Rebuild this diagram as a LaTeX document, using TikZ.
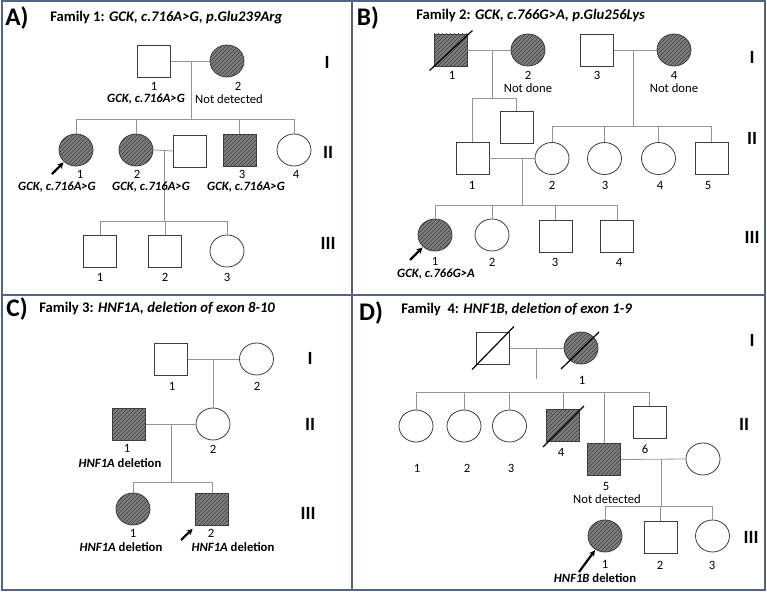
\documentclass[tikz,border=0pt]{standalone}
\usepackage{fontspec}
\setmainfont{Carlito}
\usetikzlibrary{shapes.geometric,patterns,calc,arrows.meta}
\definecolor{framec}{RGB}{84,98,132}
\definecolor{symc}{RGB}{60,60,60}
\definecolor{connc}{RGB}{150,150,150}
\definecolor{affc}{RGB}{125,125,125}
\definecolor{hatc}{RGB}{65,65,65}
\tikzset{
  sym/.style={draw=symc, line width=0.6pt, inner sep=0pt},
  male/.style={sym, rectangle, minimum width=24.75pt, minimum height=24pt},
  female/.style={sym, ellipse, minimum width=25.5pt, minimum height=24pt},
  aff/.style={preaction={fill=affc}, pattern=north east lines, pattern color=hatc},
  conn/.style={draw=connc, line width=0.6pt},
  num/.style={font=\fontsize{9.5}{11}\selectfont, inner sep=0pt},
  geno/.style={font=\fontsize{9.5}{11}\selectfont\bfseries\itshape, inner sep=0pt},
  gen/.style={font=\fontsize{14}{16}\selectfont\bfseries, inner sep=0pt},
  panel/.style={font=\fontsize{19}{22}\selectfont\bfseries, inner sep=0pt},
  ttl/.style={font=\fontsize{11}{13}\selectfont\bfseries, anchor=west, inner sep=0pt},
  prob/.style={line width=1.6pt, black, -{Stealth[length=4.5pt,width=4.5pt]}, shorten >=0.5pt},
  dec/.style={line width=0.9pt, black},
  framel/.style={draw=framec, line width=0.8pt}
}
\begin{document}
\begin{tikzpicture}[x=0.75pt,y=-0.75pt]
\useasboundingbox (0,0) rectangle (767,592);
% frame
\draw[framel] (2,1) rectangle (765,590);
\draw[framel] (352,1) -- (352,590);
\draw[framel] (2,295) -- (765,295);

% ================= Panel A =================
\node[panel] (Apl) at (17,18) {A)};
\node[ttl] (Atl) at (50,18) {Family 1: \textit{GCK, c.716A>G, p.Glu239Arg}};
\node[male] (A11) at (154,61) {};
\node[female,aff] (A12) at (227,61) {};
\draw[conn] (A11.east) -- (A12.west);
\coordinate (Am1) at (191,61);
\coordinate (As1) at (191,119);
\draw[conn] (Am1) -- (As1);
\node[num] (A11n) at (154,86) {1};
\node[geno] (A11g) at (146,99) {GCK, c.716A>G};
\node[num] (A12n) at (238,86) {2};
\node[num] (A12g) at (229,99) {Not detected};
\node[gen] (AgI) at (327,62) {I};

\node[female,aff] (A21) at (76,150) {};
\node[female,aff] (A22) at (136,150) {};
\node[male] (A2s) at (190,151) {};
\node[male,aff] (A23) at (239.5,150.5) {};
\node[female] (A24) at (294,150) {};
\foreach \c in {A21,A22,A23,A24} \draw[conn] (\c.north) |- (As1);
\draw[conn] (A22.east) -- (A2s.west);
\coordinate (Am2) at (164,151);
\coordinate (As2) at (164,221);
\draw[conn] (Am2) -- (As2);
\node[num] (A21n) at (80,174) {1};
\node[num] (A22n) at (137,174) {2};
\node[num] (A23n) at (242,174) {3};
\node[num] (A24n) at (296,174) {4};
\node[geno] (A21g) at (57,187) {GCK, c.716A>G};
\node[geno] (A22g) at (151,187) {GCK, c.716A>G};
\node[geno] (A23g) at (246,187) {GCK, c.716A>G};
\coordinate (A21a) at (52,174);
\draw[prob] (A21a) -- (A21.225);
\node[gen] (AgII) at (328,152) {II};

\node[male] (A31) at (100,251) {};
\node[male] (A32) at (165,251) {};
\node[female] (A33) at (227,251) {};
\foreach \c in {A31,A32,A33} \draw[conn] (\c.north) |- (As2);
\node[num] (A31n) at (100,277) {1};
\node[num] (A32n) at (165,277) {2};
\node[num] (A33n) at (227,277) {3};
\node[gen] (AgIII) at (328,243) {III};

% ================= Panel B =================
\node[panel] (Bpl) at (368,18) {B)};
\node[ttl] (Btl) at (416,16) {Family 2: \textit{GCK, c.766G>A, p.Glu256Lys}};
\node[male,aff] (B11) at (450.5,50) {};
\draw[dec] ($(B11.south west)+(-4,4)$) -- ($(B11.north east)+(5,-3)$);
\node[female,aff] (B12) at (528,50) {};
\draw[conn] (B11.east) -- (B12.west);
\coordinate (Bm1) at (492,50);
\coordinate (Bs1) at (492,98);
\draw[conn] (Bm1) -- (Bs1);
\node[male] (B13) at (597,50) {};
\node[female,aff] (B14) at (674,50) {};
\draw[conn] (B13.east) -- (B14.west);
\coordinate (Bm2) at (633,50);
\coordinate (Bs2) at (633,126);
\draw[conn] (Bm2) -- (Bs2);
\node[num] (B11n) at (452,75) {1};
\node[num] (B12n) at (528,75) {2};
\node[num] (B12g) at (528,88) {Not done};
\node[num] (B13n) at (597,75) {3};
\node[num] (B14n) at (674,75) {4};
\node[num] (B14g) at (674,88) {Not done};
\node[gen] (BgI) at (752,57) {I};

\node[male] (B21) at (472.5,158.5) {};
\node[male] (B2x) at (516.5,127.5) {};
\draw[conn] (B21.north) |- (Bs1);
\draw[conn] (B2x.north) |- (Bs1);
\node[female] (B22) at (552,158.5) {};
\node[female] (B23) at (604.5,158.5) {};
\node[female] (B24) at (658.5,158.5) {};
\node[male] (B25) at (711.5,158.5) {};
\foreach \c in {B22,B23,B24,B25} \draw[conn] (\c.north) |- (Bs2);
\draw[conn] (B21.east) -- (B22.west);
\coordinate (Bm3) at (522,158.5);
\coordinate (Bs3) at (522,205);
\draw[conn] (Bm3) -- (Bs3);
\node[num] (B21n) at (472,185) {1};
\node[num] (B22n) at (552,185) {2};
\node[num] (B23n) at (605,185) {3};
\node[num] (B24n) at (660,185) {4};
\node[num] (B25n) at (708,185) {5};
\node[gen] (BgII) at (752,138) {II};

\node[female,aff] (B31) at (435,235) {};
\node[female] (B32) at (492,235) {};
\node[male] (B33) at (555.5,236) {};
\node[male] (B34) at (617,236) {};
\foreach \c in {B31,B32,B33,B34} \draw[conn] (\c.north) |- (Bs3);
\node[num] (B31n) at (435,261) {1};
\node[num] (B32n) at (492,262) {2};
\node[num] (B33n) at (555,262) {3};
\node[num] (B34n) at (619,262) {4};
\node[geno] (B31g) at (436,274) {GCK, c.766G>A};
\coordinate (B31a) at (410,260);
\draw[prob] (B31a) -- (B31.225);
\node[gen] (BgIII) at (752,237) {III};

% ================= Panel C =================
\node[panel] (Cpl) at (17,309) {C)};
\node[ttl] (Ctl) at (39,309) {Family 3: \textit{HNF1A, deletion of exon 8-10}};
\node[male] (C11) at (171,359) {};
\node[female] (C12) at (256.5,359) {};
\draw[conn] (C11.east) -- (C12.west);
\coordinate (Cm1) at (213,359);
\node[num] (C11n) at (172,386) {1};
\node[num] (C12n) at (257,386) {2};
\node[gen] (CgI) at (310,358) {I};

\node[male,aff] (C21) at (129,424) {};
\node[female] (C22) at (213,424) {};
\draw[conn] (Cm1) -- (C22.north);
\draw[conn] (C21.east) -- (C22.west);
\coordinate (Cm2) at (171,424);
\coordinate (Cs2) at (171,482);
\draw[conn] (Cm2) -- (Cs2);
\node[num] (C21n) at (127,448) {1};
\node[num] (C22n) at (213,449) {2};
\node[num,font=\fontsize{9.5}{11}\selectfont\bfseries] (C21g) at (120,463) {\textit{HNF1A} deletion};
\node[gen] (CgII) at (310,424) {II};

\node[female,aff] (C31) at (133,509) {};
\node[male,aff] (C32) at (212,509) {};
\foreach \c in {C31,C32} \draw[conn] (\c.north) |- (Cs2);
\node[num] (C31n) at (133,533) {1};
\node[num] (C32n) at (211,533) {2};
\node[num,font=\fontsize{9.5}{11}\selectfont\bfseries] (C31g) at (121,547) {\textit{HNF1A} deletion};
\node[num,font=\fontsize{9.5}{11}\selectfont\bfseries] (C32g) at (233,547) {\textit{HNF1A} deletion};
\coordinate (C32a) at (181,540);
\draw[prob] (C32a) -- ($(C32.south west)+(-2,3)$);
\node[gen] (CgIII) at (308,513) {III};

% ================= Panel D =================
\node[panel] (Dpl) at (371,313) {D)};
\node[ttl] (Dtl) at (401,310) {Family\ \ 4: \textit{HNF1B, deletion of exon 1-9}};
\node[male] (D11) at (493,348) {};
\draw[dec] ($(D11.south west)+(-4,5)$) -- ($(D11.north east)+(4,-5)$);
\node[female,aff] (D12) at (581,348) {};
\draw[dec] ($(D12.center)+(-20,21)$) -- ($(D12.center)+(18,-16)$);
\draw[conn] (D11.east) -- (D12.west);
\coordinate (Dm1) at (536,348);
\coordinate (Dd1) at (536,379);
\draw[conn] (Dm1) -- (Dd1);
\node[num] (D12n) at (582,380) {1};
\node[gen] (DgI) at (752,340) {I};

\coordinate (Dsl) at (416,392);
\node[female] (D21) at (416,426) {};
\node[female] (D22) at (464,426) {};
\node[female] (D23) at (509.5,426) {};
\node[male,aff] (D24) at (563,425.5) {};
\draw[dec] ($(D24.south west)+(-3,5)$) -- ($(D24.north east)+(4,-3)$);
\node[male,aff] (D25) at (604,459.5) {};
\node[male] (D26) at (649.5,422.5) {};
\foreach \c in {D21,D22,D23,D24,D25,D26} \draw[conn] (\c.north) |- (Dsl);
\node[female] (D2s) at (703,459) {};
\draw[conn] (D25.east) -- (D2s.west);
\coordinate (Dm2) at (661,459);
\coordinate (Ds2) at (661,506);
\draw[conn] (Dm2) -- (Ds2);
\node[num] (D21n) at (417,468) {1};
\node[num] (D22n) at (467,468) {2};
\node[num] (D23n) at (511,468) {3};
\node[num] (D24n) at (561,452) {4};
\node[num] (D26n) at (645,449) {6};
\node[num] (D25n) at (606,486) {5};
\node[num] (D25g) at (607,499) {Not detected};
\node[gen] (DgII) at (744,424) {II};

\node[female,aff] (D31) at (605,536) {};
\node[male] (D32) at (660.5,537) {};
\node[female] (D33) at (712.5,536) {};
\foreach \c in {D31,D32,D33} \draw[conn] (\c.north) |- (Ds2);
\node[num] (D31n) at (605,564) {1};
\node[num] (D32n) at (660,565) {2};
\node[num] (D33n) at (712,565) {3};
\node[num,font=\fontsize{9.5}{11}\selectfont\bfseries] (D31g) at (595,578) {\textit{HNF1B} deletion};
\coordinate (D31a) at (579,572);
\draw[prob] (D31a) -- (D31.235);
\node[gen] (DgIII) at (751,537) {III};
\end{tikzpicture}
\end{document}
